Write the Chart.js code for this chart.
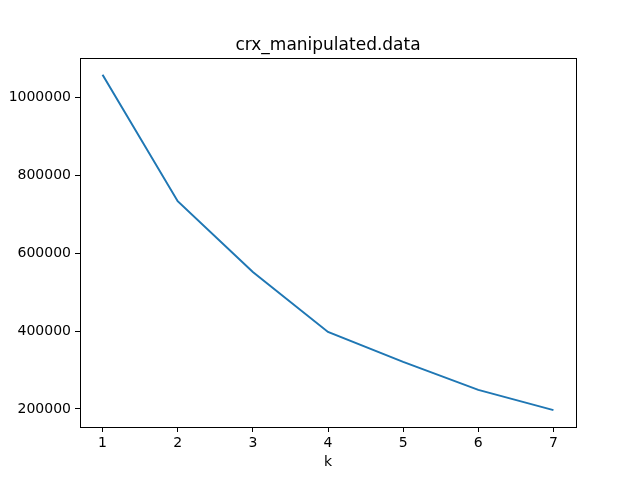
<!DOCTYPE html>
<html>
<head>
<meta charset="utf-8">
<script src="https://cdn.jsdelivr.net/npm/chart.js@4/dist/chart.umd.min.js"></script>
<style>
  html, body { margin: 0; padding: 0; background: #fff; }
  canvas { display: block; }
</style>
</head>
<body>
<canvas id="chart" width="640" height="480"></canvas>
<script>
// values
const kValues = [1, 2, 3, 4, 5, 6, 7];
const sse = [1059000, 734000, 552000, 398000, 321000, 249000, 197000];
const xTicks = [1, 2, 3, 4, 5, 6, 7];
const yTicks = [200000, 400000, 600000, 800000, 1000000];
const chartTitle = 'crx_manipulated.data';
const xLabel = 'k';

const FONT = 'DejaVu Sans';

// draws the title over the plot area and the box around it
const framePlugin = {
    id: 'frame',
    afterDraw(chart) {
        const { ctx, chartArea: a } = chart;
        ctx.save();
        ctx.strokeStyle = '#000';
        ctx.lineWidth = 1;
        ctx.strokeRect(Math.round(a.left) + 0.5, Math.round(a.top) + 0.5,
            Math.round(a.right - a.left), Math.round(a.bottom - a.top));
        ctx.fillStyle = '#000';
        ctx.font = '17px "' + FONT + '"';
        ctx.textAlign = 'center';
        ctx.textBaseline = 'alphabetic';
        ctx.fillText(chartTitle, (a.left + a.right) / 2, a.top - 8);
        ctx.restore();
    }
};

const ctx = document.getElementById('chart').getContext('2d');
new Chart(ctx, {
    type: 'line',
    data: {
        datasets: [{
            data: kValues.map((k, i) => ({ x: k, y: sse[i] })),
            borderColor: '#1f77b4',
            borderWidth: 2,
            pointRadius: 0,
            tension: 0,
            fill: false
        }]
    },
    options: {
        responsive: false,
        animation: false,
        layout: { padding: { top: 58, right: 64, left: 0, bottom: 0 } },
        plugins: {
            legend: { display: false },
            title: { display: false },
            tooltip: { enabled: false }
        },
        scales: {
            x: {
                type: 'linear',
                min: 0.7,
                max: 7.3,
                afterBuildTicks: s => { s.ticks = xTicks.map(v => ({ value: v })); },
                afterFit: s => { s.height = 53; },
                border: { display: false },
                grid: { drawOnChartArea: false, drawTicks: true, tickLength: 5, color: '#000' },
                ticks: { color: '#000', font: { family: FONT, size: 14 }, padding: 3, maxRotation: 0 },
                title: { display: true, text: xLabel, color: '#000', font: { family: FONT, size: 14 }, padding: { top: 0, bottom: 9 } }
            },
            y: {
                type: 'linear',
                min: 153600,
                max: 1102100,
                afterBuildTicks: s => { s.ticks = yTicks.map(v => ({ value: v })); },
                afterFit: s => { s.width = 80; },
                border: { display: false },
                grid: { drawOnChartArea: false, drawTicks: true, tickLength: 5, color: '#000' },
                ticks: { color: '#000', font: { family: FONT, size: 14 }, padding: 4, callback: v => String(v) }
            }
        }
    },
    plugins: [framePlugin]
});
</script>
</body>
</html>
